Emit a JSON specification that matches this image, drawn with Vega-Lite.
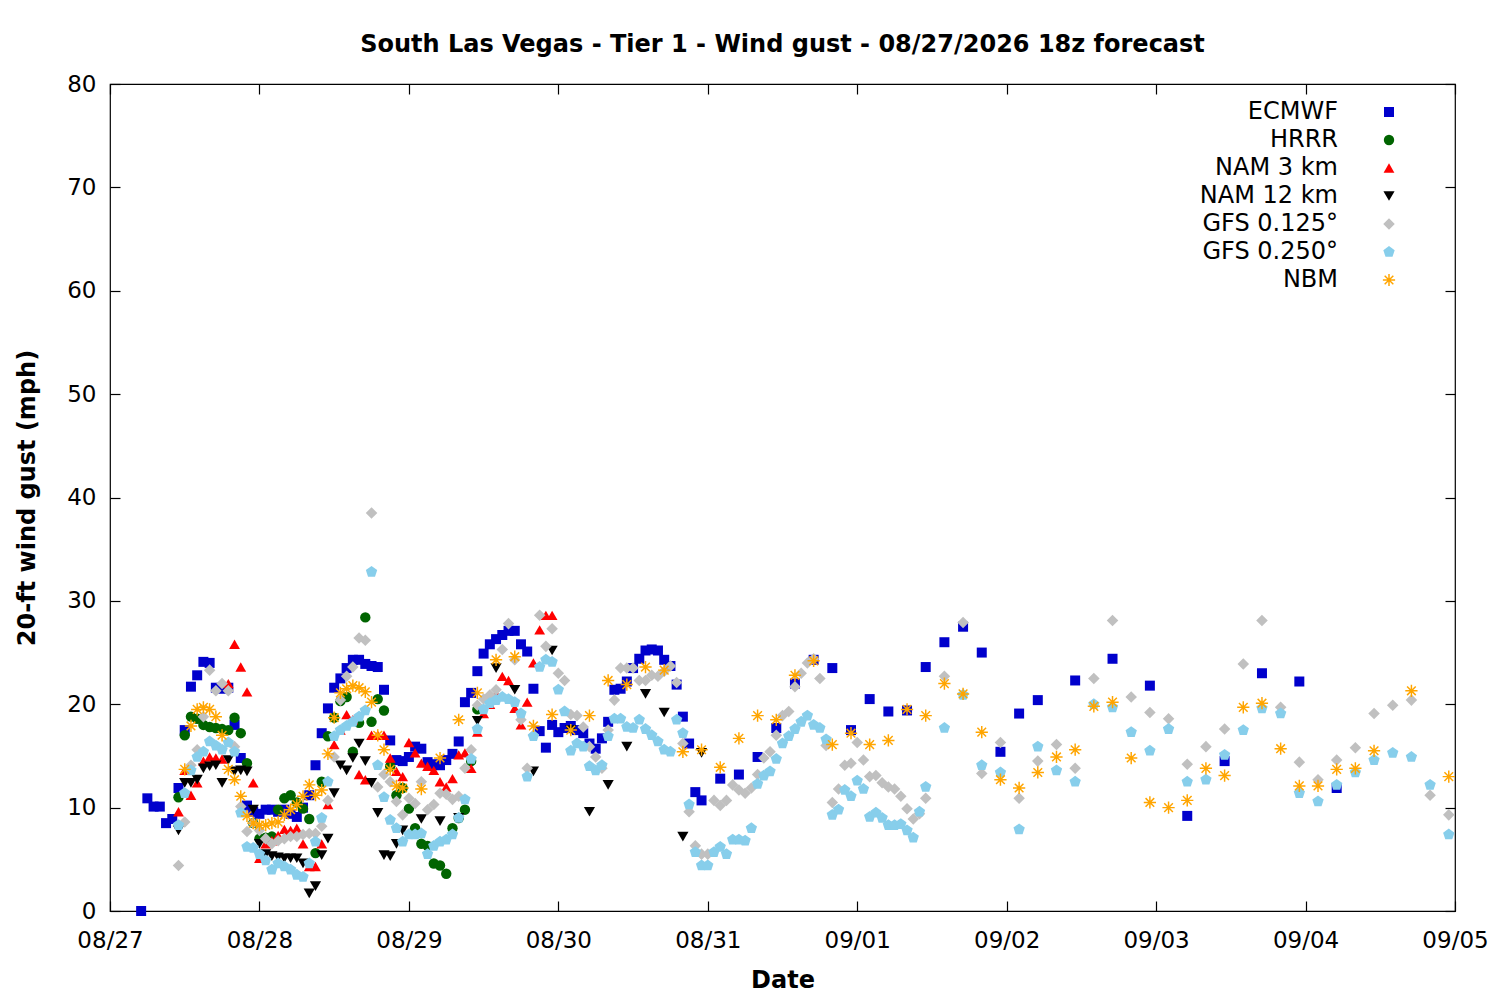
{
  "$schema": "https://vega.github.io/schema/vega-lite/v6.json",
  "width": 1345,
  "height": 827,
  "autosize": {"type": "none"},
  "padding": {"left": 110, "top": 84, "right": 45, "bottom": 89},
  "background": "white",
  "title": {"text": "South Las Vegas - Tier 1 - Wind gust - 08/27/2026 18z forecast", "font": "DejaVu Sans", "fontSize": 24, "fontWeight": "bold", "anchor": "middle", "baseline": "alphabetic", "frame": "group", "offset": 33, "dy": 36, "color": "black"},
  "config": {
    "view": {"stroke": "black", "strokeWidth": 1.2},
    "axis": {"grid": false, "domain": false, "labelFont": "DejaVu Sans", "labelFontSize": 23, "labelColor": "black", "titleFont": "DejaVu Sans", "titleFontSize": 24, "titleFontWeight": "bold", "titleColor": "black", "tickColor": "black", "tickWidth": 1.2}
  },
  "layer": [
    {
      "data": {"values": [
{"m":"ECMWF","h":5,"v":0},{"m":"ECMWF","h":6,"v":10.9},{"m":"ECMWF","h":7,"v":10.1},{"m":"ECMWF","h":8,"v":10.1},{"m":"ECMWF","h":9,"v":8.5},{"m":"ECMWF","h":10,"v":8.9},{"m":"ECMWF","h":11,"v":11.9},{"m":"ECMWF","h":12,"v":17.5},{"m":"ECMWF","h":13,"v":21.7},{"m":"ECMWF","h":14,"v":22.8},{"m":"ECMWF","h":15,"v":24.1},{"m":"ECMWF","h":16,"v":24.0},{"m":"ECMWF","h":17,"v":21.6},{"m":"ECMWF","h":18,"v":21.5},{"m":"ECMWF","h":19,"v":21.6},{"m":"ECMWF","h":20,"v":18.0},{"m":"ECMWF","h":21,"v":14.8},{"m":"ECMWF","h":22,"v":10.2},{"m":"ECMWF","h":23,"v":9.6},{"m":"ECMWF","h":24,"v":9.4},{"m":"ECMWF","h":25,"v":9.8},{"m":"ECMWF","h":26,"v":9.8},{"m":"ECMWF","h":27,"v":9.6},{"m":"ECMWF","h":28,"v":9.8},{"m":"ECMWF","h":29,"v":9.4},{"m":"ECMWF","h":30,"v":9.1},{"m":"ECMWF","h":31,"v":10.0},{"m":"ECMWF","h":32,"v":11.2},{"m":"ECMWF","h":33,"v":14.1},{"m":"ECMWF","h":34,"v":17.2},{"m":"ECMWF","h":35,"v":19.6},{"m":"ECMWF","h":36,"v":21.6},{"m":"ECMWF","h":37,"v":22.5},{"m":"ECMWF","h":38,"v":23.5},{"m":"ECMWF","h":39,"v":24.3},{"m":"ECMWF","h":40,"v":24.3},{"m":"ECMWF","h":41,"v":23.9},{"m":"ECMWF","h":42,"v":23.7},{"m":"ECMWF","h":43,"v":23.6},{"m":"ECMWF","h":44,"v":21.4},{"m":"ECMWF","h":45,"v":16.5},{"m":"ECMWF","h":46,"v":14.6},{"m":"ECMWF","h":47,"v":14.5},{"m":"ECMWF","h":48,"v":14.9},{"m":"ECMWF","h":49,"v":15.9},{"m":"ECMWF","h":50,"v":15.7},{"m":"ECMWF","h":51,"v":14.4},{"m":"ECMWF","h":52,"v":14.2},{"m":"ECMWF","h":53,"v":14.1},{"m":"ECMWF","h":54,"v":14.6},{"m":"ECMWF","h":55,"v":15.2},{"m":"ECMWF","h":56,"v":16.4},{"m":"ECMWF","h":57,"v":20.2},{"m":"ECMWF","h":58,"v":21.1},{"m":"ECMWF","h":59,"v":23.2},{"m":"ECMWF","h":60,"v":24.9},{"m":"ECMWF","h":61,"v":25.8},{"m":"ECMWF","h":62,"v":26.3},{"m":"ECMWF","h":63,"v":26.7},{"m":"ECMWF","h":64,"v":27.1},{"m":"ECMWF","h":65,"v":27.1},{"m":"ECMWF","h":66,"v":25.8},{"m":"ECMWF","h":67,"v":25.1},{"m":"ECMWF","h":68,"v":21.5},{"m":"ECMWF","h":69,"v":17.4},{"m":"ECMWF","h":70,"v":15.8},{"m":"ECMWF","h":71,"v":18.0},{"m":"ECMWF","h":72,"v":17.3},{"m":"ECMWF","h":73,"v":17.7},{"m":"ECMWF","h":74,"v":17.9},{"m":"ECMWF","h":75,"v":17.5},{"m":"ECMWF","h":76,"v":17.2},{"m":"ECMWF","h":77,"v":16.2},{"m":"ECMWF","h":78,"v":15.7},{"m":"ECMWF","h":79,"v":16.7},{"m":"ECMWF","h":80,"v":18.3},{"m":"ECMWF","h":81,"v":21.4},{"m":"ECMWF","h":82,"v":21.5},{"m":"ECMWF","h":83,"v":22.2},{"m":"ECMWF","h":84,"v":23.5},{"m":"ECMWF","h":85,"v":24.4},{"m":"ECMWF","h":86,"v":25.2},{"m":"ECMWF","h":87,"v":25.3},{"m":"ECMWF","h":88,"v":25.2},{"m":"ECMWF","h":89,"v":24.3},{"m":"ECMWF","h":90,"v":23.7},{"m":"ECMWF","h":91,"v":21.9},{"m":"ECMWF","h":92,"v":18.8},{"m":"ECMWF","h":93,"v":16.2},{"m":"ECMWF","h":94,"v":11.5},{"m":"ECMWF","h":95,"v":10.7},{"m":"ECMWF","h":98,"v":12.8},{"m":"ECMWF","h":101,"v":13.2},{"m":"ECMWF","h":104,"v":14.9},{"m":"ECMWF","h":107,"v":17.7},{"m":"ECMWF","h":110,"v":22.0},{"m":"ECMWF","h":113,"v":24.3},{"m":"ECMWF","h":116,"v":23.5},{"m":"ECMWF","h":119,"v":17.5},{"m":"ECMWF","h":122,"v":20.5},{"m":"ECMWF","h":125,"v":19.3},{"m":"ECMWF","h":128,"v":19.4},{"m":"ECMWF","h":131,"v":23.6},{"m":"ECMWF","h":134,"v":26.0},{"m":"ECMWF","h":137,"v":27.5},{"m":"ECMWF","h":140,"v":25.0},{"m":"ECMWF","h":143,"v":15.4},{"m":"ECMWF","h":146,"v":19.1},{"m":"ECMWF","h":149,"v":20.4},{"m":"ECMWF","h":155,"v":22.3},{"m":"ECMWF","h":161,"v":24.4},{"m":"ECMWF","h":167,"v":21.8},{"m":"ECMWF","h":173,"v":9.2},{"m":"ECMWF","h":179,"v":14.5},{"m":"ECMWF","h":185,"v":23.0},{"m":"ECMWF","h":191,"v":22.2},{"m":"ECMWF","h":197,"v":11.9},
{"m":"HRRR","h":11,"v":11.0},{"m":"HRRR","h":12,"v":17.0},{"m":"HRRR","h":13,"v":18.8},{"m":"HRRR","h":14,"v":18.6},{"m":"HRRR","h":15,"v":18.0},{"m":"HRRR","h":16,"v":17.8},{"m":"HRRR","h":17,"v":17.7},{"m":"HRRR","h":18,"v":17.6},{"m":"HRRR","h":19,"v":17.5},{"m":"HRRR","h":20,"v":18.7},{"m":"HRRR","h":21,"v":17.2},{"m":"HRRR","h":22,"v":14.3},{"m":"HRRR","h":23,"v":8.5},{"m":"HRRR","h":24,"v":7.0},{"m":"HRRR","h":25,"v":7.1},{"m":"HRRR","h":26,"v":7.2},{"m":"HRRR","h":27,"v":9.8},{"m":"HRRR","h":28,"v":10.9},{"m":"HRRR","h":29,"v":11.2},{"m":"HRRR","h":30,"v":10.5},{"m":"HRRR","h":31,"v":9.9},{"m":"HRRR","h":32,"v":8.9},{"m":"HRRR","h":33,"v":5.6},{"m":"HRRR","h":34,"v":12.5},{"m":"HRRR","h":35,"v":16.9},{"m":"HRRR","h":36,"v":18.7},{"m":"HRRR","h":37,"v":20.3},{"m":"HRRR","h":38,"v":20.7},{"m":"HRRR","h":39,"v":15.4},{"m":"HRRR","h":40,"v":18.2},{"m":"HRRR","h":41,"v":28.4},{"m":"HRRR","h":42,"v":18.3},{"m":"HRRR","h":43,"v":20.5},{"m":"HRRR","h":44,"v":19.4},{"m":"HRRR","h":45,"v":14.0},{"m":"HRRR","h":46,"v":11.2},{"m":"HRRR","h":47,"v":11.9},{"m":"HRRR","h":48,"v":9.9},{"m":"HRRR","h":49,"v":8.0},{"m":"HRRR","h":50,"v":6.5},{"m":"HRRR","h":51,"v":6.3},{"m":"HRRR","h":52,"v":4.6},{"m":"HRRR","h":53,"v":4.4},{"m":"HRRR","h":54,"v":3.6},{"m":"HRRR","h":55,"v":8.0},{"m":"HRRR","h":56,"v":9.0},{"m":"HRRR","h":57,"v":9.8},{"m":"HRRR","h":58,"v":14.5},{"m":"HRRR","h":59,"v":19.5},
{"m":"NAM 3 km","h":11,"v":9.6},{"m":"NAM 3 km","h":12,"v":13.6},{"m":"NAM 3 km","h":13,"v":11.2},{"m":"NAM 3 km","h":14,"v":12.4},{"m":"NAM 3 km","h":15,"v":14.5},{"m":"NAM 3 km","h":16,"v":14.9},{"m":"NAM 3 km","h":17,"v":14.8},{"m":"NAM 3 km","h":18,"v":14.7},{"m":"NAM 3 km","h":19,"v":22.0},{"m":"NAM 3 km","h":20,"v":25.8},{"m":"NAM 3 km","h":21,"v":23.6},{"m":"NAM 3 km","h":22,"v":21.2},{"m":"NAM 3 km","h":23,"v":12.4},{"m":"NAM 3 km","h":24,"v":5.1},{"m":"NAM 3 km","h":25,"v":6.5},{"m":"NAM 3 km","h":26,"v":6.8},{"m":"NAM 3 km","h":27,"v":7.3},{"m":"NAM 3 km","h":28,"v":7.9},{"m":"NAM 3 km","h":29,"v":7.8},{"m":"NAM 3 km","h":30,"v":8.0},{"m":"NAM 3 km","h":31,"v":6.5},{"m":"NAM 3 km","h":32,"v":4.3},{"m":"NAM 3 km","h":33,"v":4.3},{"m":"NAM 3 km","h":34,"v":6.5},{"m":"NAM 3 km","h":35,"v":10.3},{"m":"NAM 3 km","h":36,"v":16.1},{"m":"NAM 3 km","h":37,"v":17.5},{"m":"NAM 3 km","h":38,"v":19.0},{"m":"NAM 3 km","h":39,"v":18.5},{"m":"NAM 3 km","h":40,"v":13.2},{"m":"NAM 3 km","h":41,"v":12.7},{"m":"NAM 3 km","h":42,"v":17.0},{"m":"NAM 3 km","h":43,"v":17.0},{"m":"NAM 3 km","h":44,"v":17.0},{"m":"NAM 3 km","h":45,"v":14.8},{"m":"NAM 3 km","h":46,"v":13.5},{"m":"NAM 3 km","h":47,"v":13.0},{"m":"NAM 3 km","h":48,"v":16.3},{"m":"NAM 3 km","h":49,"v":15.3},{"m":"NAM 3 km","h":50,"v":14.3},{"m":"NAM 3 km","h":51,"v":14.0},{"m":"NAM 3 km","h":52,"v":13.6},{"m":"NAM 3 km","h":53,"v":12.5},{"m":"NAM 3 km","h":54,"v":12.0},{"m":"NAM 3 km","h":55,"v":12.8},{"m":"NAM 3 km","h":56,"v":15.1},{"m":"NAM 3 km","h":57,"v":15.3},{"m":"NAM 3 km","h":58,"v":13.8},{"m":"NAM 3 km","h":59,"v":17.3},{"m":"NAM 3 km","h":60,"v":19.1},{"m":"NAM 3 km","h":61,"v":20.0},{"m":"NAM 3 km","h":62,"v":21.0},{"m":"NAM 3 km","h":63,"v":22.7},{"m":"NAM 3 km","h":64,"v":22.3},{"m":"NAM 3 km","h":65,"v":19.6},{"m":"NAM 3 km","h":66,"v":18.0},{"m":"NAM 3 km","h":67,"v":20.2},{"m":"NAM 3 km","h":68,"v":24.0},{"m":"NAM 3 km","h":69,"v":27.2},{"m":"NAM 3 km","h":70,"v":28.6},{"m":"NAM 3 km","h":71,"v":28.6},
{"m":"NAM 12 km","h":11,"v":7.8},{"m":"NAM 12 km","h":12,"v":12.4},{"m":"NAM 12 km","h":13,"v":12.4},{"m":"NAM 12 km","h":14,"v":12.7},{"m":"NAM 12 km","h":15,"v":13.8},{"m":"NAM 12 km","h":16,"v":14.0},{"m":"NAM 12 km","h":17,"v":14.1},{"m":"NAM 12 km","h":18,"v":12.4},{"m":"NAM 12 km","h":19,"v":14.6},{"m":"NAM 12 km","h":20,"v":13.5},{"m":"NAM 12 km","h":21,"v":13.6},{"m":"NAM 12 km","h":22,"v":13.5},{"m":"NAM 12 km","h":23,"v":9.8},{"m":"NAM 12 km","h":24,"v":6.5},{"m":"NAM 12 km","h":25,"v":5.5},{"m":"NAM 12 km","h":26,"v":5.3},{"m":"NAM 12 km","h":27,"v":5.2},{"m":"NAM 12 km","h":28,"v":5.1},{"m":"NAM 12 km","h":29,"v":5.1},{"m":"NAM 12 km","h":30,"v":5.1},{"m":"NAM 12 km","h":31,"v":4.6},{"m":"NAM 12 km","h":32,"v":1.7},{"m":"NAM 12 km","h":33,"v":2.4},{"m":"NAM 12 km","h":34,"v":5.4},{"m":"NAM 12 km","h":35,"v":7.0},{"m":"NAM 12 km","h":36,"v":11.4},{"m":"NAM 12 km","h":37,"v":14.1},{"m":"NAM 12 km","h":38,"v":13.6},{"m":"NAM 12 km","h":39,"v":14.8},{"m":"NAM 12 km","h":40,"v":16.2},{"m":"NAM 12 km","h":41,"v":14.5},{"m":"NAM 12 km","h":42,"v":12.4},{"m":"NAM 12 km","h":43,"v":9.5},{"m":"NAM 12 km","h":44,"v":5.4},{"m":"NAM 12 km","h":45,"v":5.3},{"m":"NAM 12 km","h":46,"v":6.5},{"m":"NAM 12 km","h":47,"v":7.8},{"m":"NAM 12 km","h":50,"v":8.9},{"m":"NAM 12 km","h":53,"v":8.7},{"m":"NAM 12 km","h":56,"v":9.0},{"m":"NAM 12 km","h":59,"v":18.4},{"m":"NAM 12 km","h":62,"v":23.5},{"m":"NAM 12 km","h":65,"v":21.4},{"m":"NAM 12 km","h":68,"v":13.5},{"m":"NAM 12 km","h":71,"v":25.2},{"m":"NAM 12 km","h":74,"v":17.5},{"m":"NAM 12 km","h":77,"v":9.6},{"m":"NAM 12 km","h":80,"v":12.2},{"m":"NAM 12 km","h":83,"v":15.9},{"m":"NAM 12 km","h":86,"v":21.0},{"m":"NAM 12 km","h":89,"v":19.2},{"m":"NAM 12 km","h":92,"v":7.2},{"m":"NAM 12 km","h":95,"v":15.3},
{"m":"GFS 0.125°","h":11,"v":4.4},{"m":"GFS 0.125°","h":12,"v":8.6},{"m":"GFS 0.125°","h":13,"v":14.1},{"m":"GFS 0.125°","h":14,"v":15.6},{"m":"GFS 0.125°","h":15,"v":18.8},{"m":"GFS 0.125°","h":16,"v":23.3},{"m":"GFS 0.125°","h":17,"v":21.3},{"m":"GFS 0.125°","h":18,"v":22.0},{"m":"GFS 0.125°","h":19,"v":21.3},{"m":"GFS 0.125°","h":20,"v":15.9},{"m":"GFS 0.125°","h":21,"v":10.1},{"m":"GFS 0.125°","h":22,"v":7.7},{"m":"GFS 0.125°","h":23,"v":8.5},{"m":"GFS 0.125°","h":24,"v":7.8},{"m":"GFS 0.125°","h":25,"v":7.0},{"m":"GFS 0.125°","h":26,"v":6.5},{"m":"GFS 0.125°","h":27,"v":6.8},{"m":"GFS 0.125°","h":28,"v":7.0},{"m":"GFS 0.125°","h":29,"v":7.2},{"m":"GFS 0.125°","h":30,"v":7.2},{"m":"GFS 0.125°","h":31,"v":7.4},{"m":"GFS 0.125°","h":32,"v":7.5},{"m":"GFS 0.125°","h":33,"v":7.5},{"m":"GFS 0.125°","h":34,"v":8.2},{"m":"GFS 0.125°","h":35,"v":10.7},{"m":"GFS 0.125°","h":36,"v":14.9},{"m":"GFS 0.125°","h":37,"v":20.4},{"m":"GFS 0.125°","h":38,"v":22.7},{"m":"GFS 0.125°","h":39,"v":23.6},{"m":"GFS 0.125°","h":40,"v":26.4},{"m":"GFS 0.125°","h":41,"v":26.2},{"m":"GFS 0.125°","h":42,"v":38.5},{"m":"GFS 0.125°","h":43,"v":12.0},{"m":"GFS 0.125°","h":44,"v":13.2},{"m":"GFS 0.125°","h":45,"v":12.5},{"m":"GFS 0.125°","h":46,"v":10.6},{"m":"GFS 0.125°","h":47,"v":9.3},{"m":"GFS 0.125°","h":48,"v":10.9},{"m":"GFS 0.125°","h":49,"v":10.4},{"m":"GFS 0.125°","h":50,"v":12.5},{"m":"GFS 0.125°","h":51,"v":9.8},{"m":"GFS 0.125°","h":52,"v":10.3},{"m":"GFS 0.125°","h":53,"v":11.4},{"m":"GFS 0.125°","h":54,"v":11.3},{"m":"GFS 0.125°","h":55,"v":10.8},{"m":"GFS 0.125°","h":56,"v":11.1},{"m":"GFS 0.125°","h":57,"v":13.8},{"m":"GFS 0.125°","h":58,"v":15.6},{"m":"GFS 0.125°","h":59,"v":19.9},{"m":"GFS 0.125°","h":60,"v":20.5},{"m":"GFS 0.125°","h":61,"v":20.9},{"m":"GFS 0.125°","h":62,"v":21.4},{"m":"GFS 0.125°","h":63,"v":25.3},{"m":"GFS 0.125°","h":64,"v":27.8},{"m":"GFS 0.125°","h":65,"v":24.3},{"m":"GFS 0.125°","h":66,"v":18.5},{"m":"GFS 0.125°","h":67,"v":13.8},{"m":"GFS 0.125°","h":68,"v":17.0},{"m":"GFS 0.125°","h":69,"v":28.6},{"m":"GFS 0.125°","h":70,"v":25.6},{"m":"GFS 0.125°","h":71,"v":27.3},{"m":"GFS 0.125°","h":72,"v":23.0},{"m":"GFS 0.125°","h":73,"v":22.3},{"m":"GFS 0.125°","h":74,"v":19.0},{"m":"GFS 0.125°","h":75,"v":18.9},{"m":"GFS 0.125°","h":76,"v":17.8},{"m":"GFS 0.125°","h":77,"v":15.9},{"m":"GFS 0.125°","h":78,"v":14.9},{"m":"GFS 0.125°","h":79,"v":13.8},{"m":"GFS 0.125°","h":80,"v":17.5},{"m":"GFS 0.125°","h":81,"v":20.4},{"m":"GFS 0.125°","h":82,"v":23.5},{"m":"GFS 0.125°","h":83,"v":23.5},{"m":"GFS 0.125°","h":84,"v":23.5},{"m":"GFS 0.125°","h":85,"v":22.3},{"m":"GFS 0.125°","h":86,"v":22.3},{"m":"GFS 0.125°","h":87,"v":22.8},{"m":"GFS 0.125°","h":88,"v":22.7},{"m":"GFS 0.125°","h":89,"v":23.2},{"m":"GFS 0.125°","h":90,"v":23.7},{"m":"GFS 0.125°","h":91,"v":22.1},{"m":"GFS 0.125°","h":92,"v":16.2},{"m":"GFS 0.125°","h":93,"v":9.6},{"m":"GFS 0.125°","h":94,"v":6.3},{"m":"GFS 0.125°","h":95,"v":5.5},{"m":"GFS 0.125°","h":96,"v":5.5},{"m":"GFS 0.125°","h":97,"v":10.7},{"m":"GFS 0.125°","h":98,"v":10.2},{"m":"GFS 0.125°","h":99,"v":10.7},{"m":"GFS 0.125°","h":100,"v":12.2},{"m":"GFS 0.125°","h":101,"v":11.7},{"m":"GFS 0.125°","h":102,"v":11.4},{"m":"GFS 0.125°","h":103,"v":11.9},{"m":"GFS 0.125°","h":104,"v":13.2},{"m":"GFS 0.125°","h":105,"v":14.8},{"m":"GFS 0.125°","h":106,"v":15.4},{"m":"GFS 0.125°","h":107,"v":17.0},{"m":"GFS 0.125°","h":108,"v":18.9},{"m":"GFS 0.125°","h":109,"v":19.3},{"m":"GFS 0.125°","h":110,"v":21.7},{"m":"GFS 0.125°","h":111,"v":23.0},{"m":"GFS 0.125°","h":112,"v":24.0},{"m":"GFS 0.125°","h":113,"v":24.4},{"m":"GFS 0.125°","h":114,"v":22.5},{"m":"GFS 0.125°","h":115,"v":16.0},{"m":"GFS 0.125°","h":116,"v":10.5},{"m":"GFS 0.125°","h":117,"v":11.8},{"m":"GFS 0.125°","h":118,"v":14.1},{"m":"GFS 0.125°","h":119,"v":14.3},{"m":"GFS 0.125°","h":120,"v":16.3},{"m":"GFS 0.125°","h":121,"v":14.6},{"m":"GFS 0.125°","h":122,"v":13.0},{"m":"GFS 0.125°","h":123,"v":13.1},{"m":"GFS 0.125°","h":124,"v":12.4},{"m":"GFS 0.125°","h":125,"v":12.0},{"m":"GFS 0.125°","h":126,"v":11.8},{"m":"GFS 0.125°","h":127,"v":11.1},{"m":"GFS 0.125°","h":128,"v":9.9},{"m":"GFS 0.125°","h":129,"v":8.9},{"m":"GFS 0.125°","h":130,"v":9.4},{"m":"GFS 0.125°","h":131,"v":10.9},{"m":"GFS 0.125°","h":134,"v":22.7},{"m":"GFS 0.125°","h":137,"v":27.9},{"m":"GFS 0.125°","h":140,"v":13.3},{"m":"GFS 0.125°","h":143,"v":16.3},{"m":"GFS 0.125°","h":146,"v":10.9},{"m":"GFS 0.125°","h":149,"v":14.5},{"m":"GFS 0.125°","h":152,"v":16.1},{"m":"GFS 0.125°","h":155,"v":13.8},{"m":"GFS 0.125°","h":158,"v":22.5},{"m":"GFS 0.125°","h":161,"v":28.1},{"m":"GFS 0.125°","h":164,"v":20.7},{"m":"GFS 0.125°","h":167,"v":19.2},{"m":"GFS 0.125°","h":170,"v":18.6},{"m":"GFS 0.125°","h":173,"v":14.2},{"m":"GFS 0.125°","h":176,"v":15.9},{"m":"GFS 0.125°","h":179,"v":17.6},{"m":"GFS 0.125°","h":182,"v":23.9},{"m":"GFS 0.125°","h":185,"v":28.1},{"m":"GFS 0.125°","h":188,"v":19.7},{"m":"GFS 0.125°","h":191,"v":14.4},{"m":"GFS 0.125°","h":194,"v":12.7},{"m":"GFS 0.125°","h":197,"v":14.6},{"m":"GFS 0.125°","h":200,"v":15.8},{"m":"GFS 0.125°","h":203,"v":19.1},{"m":"GFS 0.125°","h":206,"v":19.9},{"m":"GFS 0.125°","h":209,"v":20.4},{"m":"GFS 0.125°","h":212,"v":11.2},{"m":"GFS 0.125°","h":215,"v":9.3},
{"m":"GFS 0.250°","h":11,"v":8.3},{"m":"GFS 0.250°","h":12,"v":11.4},{"m":"GFS 0.250°","h":13,"v":13.6},{"m":"GFS 0.250°","h":14,"v":14.9},{"m":"GFS 0.250°","h":15,"v":15.4},{"m":"GFS 0.250°","h":16,"v":16.4},{"m":"GFS 0.250°","h":17,"v":16.0},{"m":"GFS 0.250°","h":18,"v":15.6},{"m":"GFS 0.250°","h":19,"v":16.3},{"m":"GFS 0.250°","h":20,"v":15.4},{"m":"GFS 0.250°","h":21,"v":9.5},{"m":"GFS 0.250°","h":22,"v":6.2},{"m":"GFS 0.250°","h":23,"v":6.1},{"m":"GFS 0.250°","h":24,"v":5.5},{"m":"GFS 0.250°","h":25,"v":4.9},{"m":"GFS 0.250°","h":26,"v":4.0},{"m":"GFS 0.250°","h":27,"v":4.6},{"m":"GFS 0.250°","h":28,"v":4.3},{"m":"GFS 0.250°","h":29,"v":4.0},{"m":"GFS 0.250°","h":30,"v":3.5},{"m":"GFS 0.250°","h":31,"v":3.3},{"m":"GFS 0.250°","h":32,"v":4.6},{"m":"GFS 0.250°","h":33,"v":6.7},{"m":"GFS 0.250°","h":34,"v":9.0},{"m":"GFS 0.250°","h":35,"v":12.5},{"m":"GFS 0.250°","h":36,"v":16.9},{"m":"GFS 0.250°","h":37,"v":17.5},{"m":"GFS 0.250°","h":38,"v":17.9},{"m":"GFS 0.250°","h":39,"v":18.3},{"m":"GFS 0.250°","h":40,"v":18.8},{"m":"GFS 0.250°","h":41,"v":19.4},{"m":"GFS 0.250°","h":42,"v":32.8},{"m":"GFS 0.250°","h":43,"v":14.1},{"m":"GFS 0.250°","h":44,"v":11.0},{"m":"GFS 0.250°","h":45,"v":8.8},{"m":"GFS 0.250°","h":46,"v":8.0},{"m":"GFS 0.250°","h":47,"v":6.7},{"m":"GFS 0.250°","h":48,"v":7.4},{"m":"GFS 0.250°","h":49,"v":7.4},{"m":"GFS 0.250°","h":50,"v":7.5},{"m":"GFS 0.250°","h":51,"v":5.5},{"m":"GFS 0.250°","h":52,"v":6.3},{"m":"GFS 0.250°","h":53,"v":6.7},{"m":"GFS 0.250°","h":54,"v":6.9},{"m":"GFS 0.250°","h":55,"v":7.4},{"m":"GFS 0.250°","h":56,"v":9.0},{"m":"GFS 0.250°","h":57,"v":10.8},{"m":"GFS 0.250°","h":58,"v":14.7},{"m":"GFS 0.250°","h":59,"v":17.6},{"m":"GFS 0.250°","h":60,"v":19.5},{"m":"GFS 0.250°","h":61,"v":20.1},{"m":"GFS 0.250°","h":62,"v":20.4},{"m":"GFS 0.250°","h":63,"v":20.7},{"m":"GFS 0.250°","h":64,"v":20.5},{"m":"GFS 0.250°","h":65,"v":20.2},{"m":"GFS 0.250°","h":66,"v":19.1},{"m":"GFS 0.250°","h":67,"v":13.0},{"m":"GFS 0.250°","h":68,"v":16.9},{"m":"GFS 0.250°","h":69,"v":23.6},{"m":"GFS 0.250°","h":70,"v":24.3},{"m":"GFS 0.250°","h":71,"v":24.1},{"m":"GFS 0.250°","h":72,"v":21.4},{"m":"GFS 0.250°","h":73,"v":19.3},{"m":"GFS 0.250°","h":74,"v":15.5},{"m":"GFS 0.250°","h":75,"v":16.2},{"m":"GFS 0.250°","h":76,"v":15.9},{"m":"GFS 0.250°","h":77,"v":14.0},{"m":"GFS 0.250°","h":78,"v":13.6},{"m":"GFS 0.250°","h":79,"v":14.1},{"m":"GFS 0.250°","h":80,"v":16.9},{"m":"GFS 0.250°","h":81,"v":18.6},{"m":"GFS 0.250°","h":82,"v":18.6},{"m":"GFS 0.250°","h":83,"v":17.8},{"m":"GFS 0.250°","h":84,"v":17.7},{"m":"GFS 0.250°","h":85,"v":18.5},{"m":"GFS 0.250°","h":86,"v":17.6},{"m":"GFS 0.250°","h":87,"v":17.0},{"m":"GFS 0.250°","h":88,"v":16.4},{"m":"GFS 0.250°","h":89,"v":15.6},{"m":"GFS 0.250°","h":90,"v":15.4},{"m":"GFS 0.250°","h":91,"v":18.5},{"m":"GFS 0.250°","h":92,"v":17.2},{"m":"GFS 0.250°","h":93,"v":10.3},{"m":"GFS 0.250°","h":94,"v":5.7},{"m":"GFS 0.250°","h":95,"v":4.4},{"m":"GFS 0.250°","h":96,"v":4.4},{"m":"GFS 0.250°","h":97,"v":5.7},{"m":"GFS 0.250°","h":98,"v":6.2},{"m":"GFS 0.250°","h":99,"v":5.5},{"m":"GFS 0.250°","h":100,"v":6.9},{"m":"GFS 0.250°","h":101,"v":6.9},{"m":"GFS 0.250°","h":102,"v":6.8},{"m":"GFS 0.250°","h":103,"v":8.0},{"m":"GFS 0.250°","h":104,"v":12.3},{"m":"GFS 0.250°","h":105,"v":13.1},{"m":"GFS 0.250°","h":106,"v":13.5},{"m":"GFS 0.250°","h":107,"v":14.7},{"m":"GFS 0.250°","h":108,"v":16.2},{"m":"GFS 0.250°","h":109,"v":16.9},{"m":"GFS 0.250°","h":110,"v":17.6},{"m":"GFS 0.250°","h":111,"v":18.3},{"m":"GFS 0.250°","h":112,"v":18.9},{"m":"GFS 0.250°","h":113,"v":18.0},{"m":"GFS 0.250°","h":114,"v":17.7},{"m":"GFS 0.250°","h":115,"v":16.6},{"m":"GFS 0.250°","h":116,"v":9.3},{"m":"GFS 0.250°","h":117,"v":9.8},{"m":"GFS 0.250°","h":118,"v":11.7},{"m":"GFS 0.250°","h":119,"v":11.1},{"m":"GFS 0.250°","h":120,"v":12.6},{"m":"GFS 0.250°","h":121,"v":11.8},{"m":"GFS 0.250°","h":122,"v":9.1},{"m":"GFS 0.250°","h":123,"v":9.5},{"m":"GFS 0.250°","h":124,"v":9.0},{"m":"GFS 0.250°","h":125,"v":8.3},{"m":"GFS 0.250°","h":126,"v":8.3},{"m":"GFS 0.250°","h":127,"v":8.4},{"m":"GFS 0.250°","h":128,"v":7.8},{"m":"GFS 0.250°","h":129,"v":7.1},{"m":"GFS 0.250°","h":130,"v":9.6},{"m":"GFS 0.250°","h":131,"v":12.0},{"m":"GFS 0.250°","h":134,"v":17.7},{"m":"GFS 0.250°","h":137,"v":20.9},{"m":"GFS 0.250°","h":140,"v":14.1},{"m":"GFS 0.250°","h":143,"v":13.4},{"m":"GFS 0.250°","h":146,"v":7.9},{"m":"GFS 0.250°","h":149,"v":15.9},{"m":"GFS 0.250°","h":152,"v":13.6},{"m":"GFS 0.250°","h":155,"v":12.5},{"m":"GFS 0.250°","h":158,"v":20.0},{"m":"GFS 0.250°","h":161,"v":19.7},{"m":"GFS 0.250°","h":164,"v":17.3},{"m":"GFS 0.250°","h":167,"v":15.5},{"m":"GFS 0.250°","h":170,"v":17.6},{"m":"GFS 0.250°","h":173,"v":12.5},{"m":"GFS 0.250°","h":176,"v":12.7},{"m":"GFS 0.250°","h":179,"v":15.1},{"m":"GFS 0.250°","h":182,"v":17.5},{"m":"GFS 0.250°","h":185,"v":19.6},{"m":"GFS 0.250°","h":188,"v":19.1},{"m":"GFS 0.250°","h":191,"v":11.4},{"m":"GFS 0.250°","h":194,"v":10.6},{"m":"GFS 0.250°","h":197,"v":12.2},{"m":"GFS 0.250°","h":200,"v":13.4},{"m":"GFS 0.250°","h":203,"v":14.6},{"m":"GFS 0.250°","h":206,"v":15.3},{"m":"GFS 0.250°","h":209,"v":14.9},{"m":"GFS 0.250°","h":212,"v":12.2},{"m":"GFS 0.250°","h":215,"v":7.4},
{"m":"NBM","h":12,"v":13.7},{"m":"NBM","h":13,"v":17.9},{"m":"NBM","h":14,"v":19.5},{"m":"NBM","h":15,"v":19.7},{"m":"NBM","h":16,"v":19.5},{"m":"NBM","h":17,"v":18.8},{"m":"NBM","h":18,"v":17.0},{"m":"NBM","h":19,"v":13.7},{"m":"NBM","h":20,"v":12.7},{"m":"NBM","h":21,"v":11.1},{"m":"NBM","h":22,"v":9.2},{"m":"NBM","h":23,"v":8.5},{"m":"NBM","h":24,"v":8.3},{"m":"NBM","h":25,"v":8.3},{"m":"NBM","h":26,"v":8.5},{"m":"NBM","h":27,"v":8.6},{"m":"NBM","h":28,"v":9.3},{"m":"NBM","h":29,"v":9.8},{"m":"NBM","h":30,"v":10.3},{"m":"NBM","h":31,"v":11.1},{"m":"NBM","h":32,"v":12.2},{"m":"NBM","h":33,"v":11.2},{"m":"NBM","h":34,"v":11.7},{"m":"NBM","h":35,"v":15.2},{"m":"NBM","h":36,"v":18.7},{"m":"NBM","h":37,"v":21.1},{"m":"NBM","h":38,"v":21.5},{"m":"NBM","h":39,"v":21.8},{"m":"NBM","h":40,"v":21.6},{"m":"NBM","h":41,"v":21.2},{"m":"NBM","h":42,"v":20.2},{"m":"NBM","h":43,"v":17.0},{"m":"NBM","h":44,"v":15.6},{"m":"NBM","h":45,"v":13.7},{"m":"NBM","h":46,"v":12.1},{"m":"NBM","h":47,"v":11.9},{"m":"NBM","h":50,"v":11.8},{"m":"NBM","h":53,"v":14.8},{"m":"NBM","h":56,"v":18.5},{"m":"NBM","h":59,"v":21.1},{"m":"NBM","h":62,"v":24.3},{"m":"NBM","h":65,"v":24.6},{"m":"NBM","h":68,"v":17.9},{"m":"NBM","h":71,"v":19.0},{"m":"NBM","h":74,"v":17.5},{"m":"NBM","h":77,"v":18.9},{"m":"NBM","h":80,"v":22.3},{"m":"NBM","h":83,"v":21.9},{"m":"NBM","h":86,"v":23.6},{"m":"NBM","h":89,"v":23.3},{"m":"NBM","h":92,"v":15.4},{"m":"NBM","h":95,"v":15.6},{"m":"NBM","h":98,"v":13.9},{"m":"NBM","h":101,"v":16.7},{"m":"NBM","h":104,"v":18.9},{"m":"NBM","h":107,"v":18.5},{"m":"NBM","h":110,"v":22.8},{"m":"NBM","h":113,"v":24.2},{"m":"NBM","h":116,"v":16.1},{"m":"NBM","h":119,"v":17.2},{"m":"NBM","h":122,"v":16.1},{"m":"NBM","h":125,"v":16.5},{"m":"NBM","h":128,"v":19.5},{"m":"NBM","h":131,"v":18.9},{"m":"NBM","h":134,"v":22.0},{"m":"NBM","h":137,"v":21.0},{"m":"NBM","h":140,"v":17.3},{"m":"NBM","h":143,"v":12.7},{"m":"NBM","h":146,"v":11.9},{"m":"NBM","h":149,"v":13.4},{"m":"NBM","h":152,"v":14.9},{"m":"NBM","h":155,"v":15.6},{"m":"NBM","h":158,"v":19.8},{"m":"NBM","h":161,"v":20.2},{"m":"NBM","h":164,"v":14.8},{"m":"NBM","h":167,"v":10.5},{"m":"NBM","h":170,"v":10.0},{"m":"NBM","h":173,"v":10.7},{"m":"NBM","h":176,"v":13.8},{"m":"NBM","h":179,"v":13.1},{"m":"NBM","h":182,"v":19.7},{"m":"NBM","h":185,"v":20.1},{"m":"NBM","h":188,"v":15.7},{"m":"NBM","h":191,"v":12.1},{"m":"NBM","h":194,"v":12.1},{"m":"NBM","h":197,"v":13.7},{"m":"NBM","h":200,"v":13.8},{"m":"NBM","h":203,"v":15.5},{"m":"NBM","h":209,"v":21.3},{"m":"NBM","h":215,"v":13.0}
      ]},
      "mark": {"type": "point", "filled": true, "opacity": 1, "strokeWidth": 0},
      "encoding": {
        "x": {"field": "h", "type": "quantitative", "scale": {"domain": [0, 216], "nice": false, "zero": false},
              "axis": {"orient": "bottom", "values": [0,24,48,72,96,120,144,168,192,216], "labelExpr": "['08/27','08/28','08/29','08/30','08/31','09/01','09/02','09/03','09/04','09/05'][round(datum.value/24)]", "tickSize": -10, "labelPadding": 28, "labelFlush": false, "labelOverlap": false, "title": "Date", "titleX": 672.5, "titleY": 57, "titleBaseline": "top"}},
        "y": {"field": "v", "type": "quantitative", "scale": {"domain": [0, 80], "nice": false},
              "axis": {"orient": "left", "values": [0,10,20,30,40,50,60,70,80], "tickSize": -10, "labelPadding": 24, "labelFlush": false, "labelOverlap": false, "title": "20-ft wind gust (mph)", "titleX": -71, "titleY": 413.5, "titleAngle": -90, "titleBaseline": "bottom", "titleAlign": "center"}},
        "color": {"field": "m", "type": "nominal",
                  "scale": {"domain": ["ECMWF","HRRR","NAM 3 km","NAM 12 km","GFS 0.125°","GFS 0.250°","NBM"], "range": ["#0000cc","#006400","#ff0000","#000000","#c0c0c0","#87ceeb","#ffa500"]},
                  "legend": {"title": null, "orient": "none", "legendX": 1267, "legendY": 16, "labelFont": "DejaVu Sans", "labelFontSize": 24, "labelColor": "black", "labelAlign": "right", "labelOffset": -63, "labelLimit": 0, "rowPadding": 4, "padding": 0}},
        "shape": {"field": "m", "type": "nominal",
                  "scale": {"domain": ["ECMWF","HRRR","NAM 3 km","NAM 12 km","GFS 0.125°","GFS 0.250°","NBM"], "range": ["square","circle","triangle-up","triangle-down","diamond","M0,-1L0.951,-0.309L0.588,0.809L-0.588,0.809L-0.951,-0.309Z","M-1,-0.12L1,-0.12L1,0.12L-1,0.12Z M-0.12,-1L0.12,-1L0.12,1L-0.12,1Z M-0.622,-0.792L0.792,0.622L0.622,0.792L-0.792,-0.622Z M-0.792,0.622L0.622,-0.792L0.792,-0.622L-0.622,0.792Z"]},
                  "legend": {"title": null, "orient": "none", "legendX": 1267, "legendY": 16, "labelFont": "DejaVu Sans", "labelFontSize": 24, "labelColor": "black", "labelAlign": "right", "labelOffset": -63, "labelLimit": 0, "rowPadding": 4, "padding": 0}},
        "size": {"field": "m", "type": "nominal",
                 "scale": {"domain": ["ECMWF","HRRR","NAM 3 km","NAM 12 km","GFS 0.125°","GFS 0.250°","NBM"], "range": [100, 150, 165, 165, 155, 155, 160]},
                 "legend": {"title": null, "orient": "none", "legendX": 1267, "legendY": 16, "labelFont": "DejaVu Sans", "labelFontSize": 24, "labelColor": "black", "labelAlign": "right", "labelOffset": -63, "labelLimit": 0, "rowPadding": 4, "padding": 0}}
      }
    },
    {
      "data": {"values": [{"h": 0, "v": 0}]},
      "mark": {"type": "point", "opacity": 0},
      "encoding": {
        "x": {"field": "h", "type": "quantitative", "axis": {"orient": "top", "values": [0,24,48,72,96,120,144,168,192,216], "labels": false, "tickSize": -10, "title": null}},
        "y": {"field": "v", "type": "quantitative", "axis": {"orient": "right", "values": [0,10,20,30,40,50,60,70,80], "labels": false, "tickSize": -10, "title": null}}
      }
    }
  ],
  "resolve": {"axis": {"x": "independent", "y": "independent"}}
}
